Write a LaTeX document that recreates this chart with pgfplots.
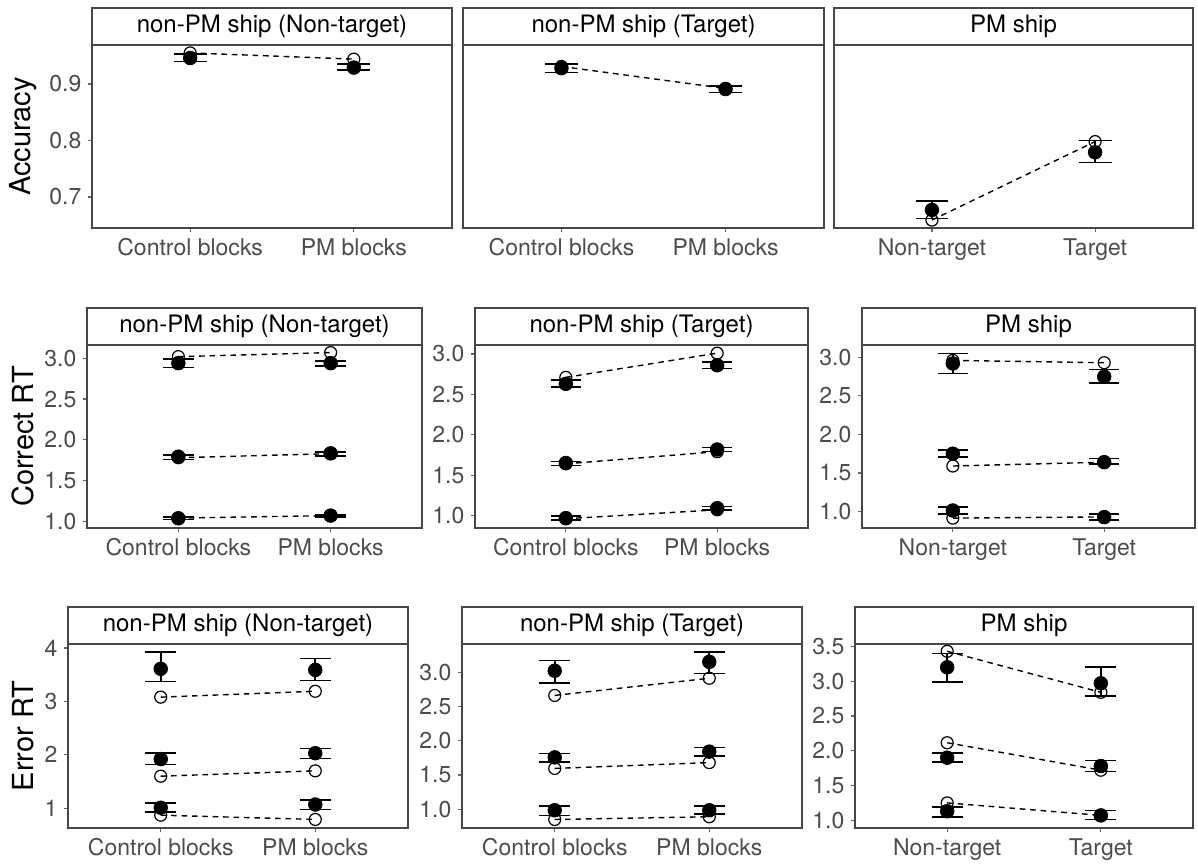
\documentclass[border=0pt]{standalone}
\usepackage{pgfplots}
\pgfplotsset{compat=1.18}
\usepackage{pgfplotstable}
\usepackage{fontspec}
\setmainfont{TeX Gyre Heros}

% x  d=observed mean, l/h=error bar, m=model
\pgfplotstableread{
x d1 l1 h1 m1
1 0.946 0.940 0.953 0.955
2 0.929 0.925 0.935 0.944
}\tAa
\pgfplotstableread{
x d1 l1 h1 m1
1 0.928 0.920 0.935 0.931
2 0.891 0.885 0.896 0.892
}\tAb
\pgfplotstableread{
x d1 l1 h1 m1
1 0.677 0.662 0.693 0.659
2 0.779 0.761 0.800 0.798
}\tAc
\pgfplotstableread{
x d1 l1 h1 m1 d2 l2 h2 m2 d3 l3 h3 m3
1 1.037 1.02 1.05 1.04 1.793 1.76 1.81 1.78 2.94 2.885 2.99 3.02
2 1.07 1.05 1.08 1.07 1.834 1.80 1.85 1.83 2.94 2.905 2.97 3.07
}\tBa
\pgfplotstableread{
x d1 l1 h1 m1 d2 l2 h2 m2 d3 l3 h3 m3
1 0.967 0.947 0.996 0.96 1.65 1.62 1.67 1.64 2.63 2.59 2.68 2.71
2 1.09 1.07 1.11 1.07 1.817 1.79 1.84 1.79 2.86 2.82 2.90 3.01
}\tBb
\pgfplotstableread{
x d1 l1 h1 m1 d2 l2 h2 m2 d3 l3 h3 m3
1 1.013 0.97 1.056 0.914 1.75 1.71 1.80 1.59 2.92 2.79 3.05 2.96
2 0.927 0.89 0.966 0.93 1.64 1.62 1.69 1.64 2.75 2.67 2.84 2.93
}\tBc
\pgfplotstableread{
x d1 l1 h1 m1 d2 l2 h2 m2 d3 l3 h3 m3
1 1.01 0.93 1.10 0.87 1.92 1.82 2.03 1.60 3.61 3.37 3.92 3.08
2 1.07 0.975 1.15 0.79 2.03 1.93 2.12 1.70 3.59 3.39 3.80 3.19
}\tCa
\pgfplotstableread{
x d1 l1 h1 m1 d2 l2 h2 m2 d3 l3 h3 m3
1 0.985 0.91 1.05 0.85 1.756 1.69 1.815 1.595 3.02 2.84 3.17 2.66
2 0.985 0.93 1.05 0.89 1.84 1.78 1.90 1.68 3.15 2.98 3.29 2.91
}\tCb
\pgfplotstableread{
x d1 l1 h1 m1 d2 l2 h2 m2 d3 l3 h3 m3
1 1.13 1.05 1.19 1.25 1.90 1.84 1.97 2.115 3.20 2.99 3.40 3.43
2 1.07 1.01 1.14 1.07 1.78 1.70 1.86 1.72 2.97 2.79 3.20 2.84
}\tCc

\def\capw{8pt}
\pgfplotsset{
  panel/.style={scale only axis, anchor=north west, height=91.5pt,
    xmin=0.4, xmax=2.6, xtick={1,2}, clip=false,
    axis line style={draw=black!72, line width=0.9pt},
    tick style={draw=black!60, line width=0.6pt},
    major tick length=1.8pt, tick align=outside,
    xtick pos=left, ytick pos=left,
    ticklabel style={font=\fontsize{11.5}{13}\selectfont, text=black!70},
  },
  blk/.style={xticklabels={Control blocks,PM blocks}},
  pms/.style={xticklabels={Non-target,Target}},
  model/.style={black, line width=0.7pt, dash pattern=on 2.8pt off 2.4pt,
    mark=o, mark size=3pt, mark options={solid, line width=0.6pt, fill=none}},
  obs/.style={black, only marks, mark=*, mark size=3.4pt,
    error bars/.cd, y dir=both, y explicit,
    error bar style={line width=0.8pt, solid},
    error mark options={line width=0.8pt, mark size=\capw, rotate=90}},
}
\newcommand{\q}[2]{%
  \addplot[model] table[x=x,y=m#2]{#1};
  \addplot[obs] table[x=x,y=d#2, y error plus expr=\thisrow{h#2}-\thisrow{d#2},
    y error minus expr=\thisrow{d#2}-\thisrow{l#2}]{#1};
}
\newcommand{\strip}[3]{% left, right (pt), top (pt)
  \draw[fill=white, draw=black!72, line width=0.9pt] (#1,-#3) rectangle (#2,-#3+18.5pt);
}
\newcommand{\striptext}[4]{%
  \node[font=\fontsize{12}{14}\selectfont, inner sep=0pt] at ({(#1+#2)/2},-#3+9.25pt) {#4};
}

\begin{document}
\begin{tikzpicture}
\path (0,0) rectangle (599pt,-430pt);

% ---------- Row 1: Accuracy ----------
\def\capw{8.2pt}
\begin{axis}[panel, blk, at={(46pt,-22.5pt)}, width=180pt,
  ymin=0.645, ymax=0.969, ytick={0.7,0.8,0.9}, yticklabels={0.7,0.8,0.9}]
  \q{\tAa}{1}
\end{axis}
\begin{axis}[panel, blk, at={(231.5pt,-22.5pt)}, width=180.5pt,
  ymin=0.645, ymax=0.969, ytick=\empty]
  \q{\tAb}{1}
\end{axis}
\begin{axis}[panel, pms, at={(417pt,-22.5pt)}, width=179.5pt,
  ymin=0.645, ymax=0.969, ytick=\empty]
  \q{\tAc}{1}
\end{axis}

% ---------- Row 2: Correct RT ----------
\def\capw{7.6pt}
\begin{axis}[panel, blk, at={(43.5pt,-172.5pt)}, width=167.5pt,
  ymin=0.918, ymax=3.163, ytick={1,1.5,2,2.5,3}, yticklabels={1.0,1.5,2.0,2.5,3.0}]
  \q{\tBa}{1}\q{\tBa}{2}\q{\tBa}{3}
\end{axis}
\begin{axis}[panel, blk, at={(237.5pt,-172.5pt)}, width=166.5pt,
  ymin=0.845, ymax=3.111, ytick={1,1.5,2,2.5,3}, yticklabels={1.0,1.5,2.0,2.5,3.0}]
  \q{\tBb}{1}\q{\tBb}{2}\q{\tBb}{3}
\end{axis}
\begin{axis}[panel, pms, at={(431pt,-172.5pt)}, width=166.5pt,
  ymin=0.786, ymax=3.16, ytick={1,1.5,2,2.5,3}, yticklabels={1.0,1.5,2.0,2.5,3.0}]
  \q{\tBc}{1}\q{\tBc}{2}\q{\tBc}{3}
\end{axis}

% ---------- Row 3: Error RT ----------
\def\capw{7.7pt}
\begin{axis}[panel, blk, at={(34pt,-322pt)}, width=170pt, height=92pt,
  ymin=0.63, ymax=4.075, ytick={1,2,3,4}, yticklabels={1,2,3,4}]
  \q{\tCa}{1}\q{\tCa}{2}\q{\tCa}{3}
\end{axis}
\begin{axis}[panel, blk, at={(231pt,-322pt)}, width=170pt, height=92pt,
  ymin=0.726, ymax=3.41, ytick={1,1.5,2,2.5,3}, yticklabels={1.0,1.5,2.0,2.5,3.0}]
  \q{\tCb}{1}\q{\tCb}{2}\q{\tCb}{3}
\end{axis}
\begin{axis}[panel, pms, at={(427.5pt,-322pt)}, width=169pt, height=92pt,
  ymin=0.889, ymax=3.535, ytick={1,1.5,2,2.5,3,3.5}, yticklabels={1.0,1.5,2.0,2.5,3.0,3.5}]
  \q{\tCc}{1}\q{\tCc}{2}\q{\tCc}{3}
\end{axis}

% ---------- strips ----------
\strip{46pt}{226pt}{22.5pt}\striptext{46pt}{226pt}{22.5pt}{non-PM ship (Non-target)}
\strip{231.5pt}{412pt}{22.5pt}\striptext{231.5pt}{412pt}{22.5pt}{non-PM ship (Target)}
\strip{417pt}{596.5pt}{22.5pt}\striptext{417pt}{596.5pt}{22.5pt}{PM ship}
\strip{43.5pt}{211pt}{172.5pt}\striptext{43.5pt}{211pt}{172.5pt}{non-PM ship (Non-target)}
\strip{237.5pt}{404pt}{172.5pt}\striptext{237.5pt}{404pt}{172.5pt}{non-PM ship (Target)}
\strip{431pt}{597.5pt}{172.5pt}\striptext{431pt}{597.5pt}{172.5pt}{PM ship}
\strip{34pt}{204pt}{322pt}\striptext{34pt}{204pt}{322pt}{non-PM ship (Non-target)}
\strip{231pt}{401pt}{322pt}\striptext{231pt}{401pt}{322pt}{non-PM ship (Target)}
\strip{427.5pt}{596.5pt}{322pt}\striptext{427.5pt}{596.5pt}{322pt}{PM ship}

% ---------- row titles ----------
\node[rotate=90, font=\fontsize{14.5}{16}\selectfont, inner sep=0pt] at (11.5pt,-68.25pt) {Accuracy};
\node[rotate=90, font=\fontsize{14.5}{16}\selectfont, inner sep=0pt] at (11.5pt,-218.25pt) {Correct RT};
\node[rotate=90, font=\fontsize{14.5}{16}\selectfont, inner sep=0pt] at (11.5pt,-368pt) {Error RT};
\end{tikzpicture}
\end{document}
